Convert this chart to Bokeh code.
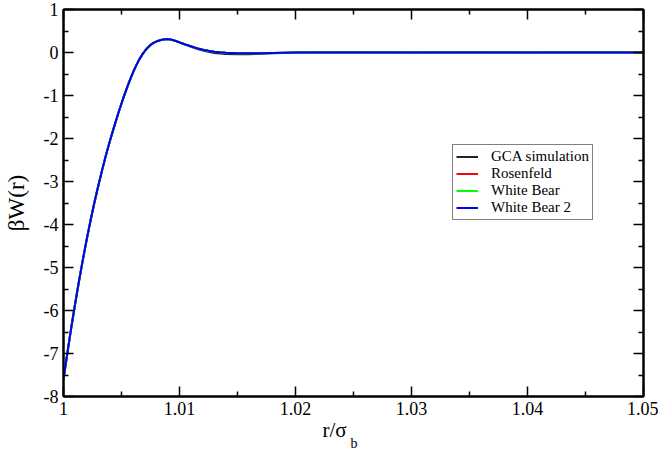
from bokeh.plotting import figure
from bokeh.models import (Range1d, LinearAxis, FixedTicker, CustomJSTickFormatter,
                          Legend, LegendItem, Title)
from bokeh.embed import file_html
from bokeh.resources import INLINE

# ---- data ----
r = [1.0000, 1.0002, 1.0004, 1.0006, 1.0008, 1.0010, 1.0012, 1.0014, 1.0016,
     1.0018, 1.0020, 1.0022, 1.0024, 1.0026, 1.0028, 1.0030, 1.0032, 1.0034,
     1.0036, 1.0038, 1.0040, 1.0042, 1.0044, 1.0046, 1.0048, 1.0050, 1.0052,
     1.0054, 1.0056, 1.0058, 1.0060, 1.0062, 1.0064, 1.0066, 1.0068, 1.0070,
     1.0072, 1.0074, 1.0076, 1.0078, 1.0080, 1.0082, 1.0084, 1.0086, 1.0088,
     1.0090, 1.0092, 1.0094, 1.0096, 1.0098, 1.0100, 1.0102, 1.0105, 1.0109,
     1.0113, 1.0117, 1.0121, 1.0125, 1.0130, 1.0135, 1.0140, 1.0150, 1.0160,
     1.0170, 1.0180, 1.0190, 1.0200, 1.0250, 1.0300, 1.0350, 1.0400, 1.0450,
     1.0500]

rosenfeld = [-7.60, -7.23, -6.87, -6.52, -6.18, -5.85, -5.53, -5.22, -4.92,
             -4.63, -4.35, -4.08, -3.82, -3.57, -3.33, -3.10, -2.88, -2.66,
             -2.45, -2.25, -2.06, -1.875, -1.695, -1.52, -1.35, -1.185, -1.025,
             -0.875, -0.73, -0.59, -0.46, -0.34, -0.23, -0.13, -0.045, 0.03,
             0.095, 0.15, 0.195, 0.23, 0.255, 0.275, 0.29, 0.30, 0.308,
             0.312, 0.305, 0.29, 0.275, 0.255, 0.235, 0.215, 0.185, 0.15,
             0.115, 0.085, 0.06, 0.04, 0.02, 0.005, -0.005, -0.015, -0.02,
             -0.015, -0.01, -0.005, 0.00, 0.00, 0.00, 0.00, 0.00, 0.00,
             0.00]
white_bear = list(rosenfeld)
white_bear2 = list(rosenfeld)
gca = [-7.60, -7.23, -6.87, -6.52, -6.18, -5.85, -5.53, -5.22, -4.92,
       -4.63, -4.35, -4.08, -3.82, -3.57, -3.33, -3.10, -2.88, -2.66,
       -2.45, -2.25, -2.06, -1.875, -1.695, -1.52, -1.35, -1.185, -1.025,
       -0.875, -0.73, -0.59, -0.46, -0.34, -0.23, -0.13, -0.045, 0.03,
       0.095, 0.15, 0.195, 0.23, 0.255, 0.275, 0.29, 0.30, 0.308,
       0.312, 0.305, 0.29, 0.275, 0.255, 0.235, 0.215, 0.185, 0.145,
       0.105, 0.07, 0.04, 0.015, -0.01, -0.025, -0.035, -0.04, -0.04,
       -0.03, -0.02, -0.01, 0.00, 0.01, 0.00, 0.01, 0.00, 0.01,
       0.00]

x_ticks = [1.0, 1.01, 1.02, 1.03, 1.04, 1.05]
x_minor = [1.005, 1.015, 1.025, 1.035, 1.045]
y_ticks = [-8, -7, -6, -5, -4, -3, -2, -1, 0, 1]
y_minor = [-7.5, -6.5, -5.5, -4.5, -3.5, -2.5, -1.5, -0.5, 0.5]

names = ["GCA simulation", "Rosenfeld", "White Bear", "White Bear 2"]
colors = ["#222222", "#ff0000", "#00ff00", "#0000ff"]
series = [gca, rosenfeld, white_bear, white_bear2]

FONT = "Liberation Serif"

p = figure(width=658, height=454, output_backend="svg", toolbar_location=None,
           x_range=Range1d(1.0, 1.05), y_range=Range1d(-8, 1),
           min_border_left=63, min_border_right=15, min_border_top=9,
           min_border_bottom=58)
p.xaxis.visible = False
p.yaxis.visible = False
p.grid.visible = False
p.outline_line_color = "black"
p.outline_line_width = 2

xfmt = CustomJSTickFormatter(code="return tick.toFixed(2).replace(/\\.?0+$/, '');")
yfmt = CustomJSTickFormatter(code="return tick.toFixed(0);")
blank = CustomJSTickFormatter(code="return '';")

def style(ax, show):
    ax.axis_line_color = "black"
    ax.axis_line_width = 2
    ax.major_tick_in = 10
    ax.major_tick_out = 0
    ax.minor_tick_in = 5
    ax.minor_tick_out = 0
    ax.major_tick_line_width = 1.5
    ax.minor_tick_line_width = 1.5
    ax.major_label_text_font = FONT
    ax.major_label_text_font_size = "18px" if show else "0px"
    ax.major_label_text_color = "black"
    ax.major_label_standoff = 5 if show else 0
    if not show:
        ax.axis_label_standoff = 0

bx = LinearAxis(ticker=FixedTicker(ticks=x_ticks, minor_ticks=x_minor), formatter=xfmt)
tx = LinearAxis(ticker=FixedTicker(ticks=x_ticks, minor_ticks=x_minor), formatter=blank)
ly = LinearAxis(ticker=FixedTicker(ticks=y_ticks, minor_ticks=y_minor), formatter=yfmt,
                axis_label="βW(r)")
ry = LinearAxis(ticker=FixedTicker(ticks=y_ticks, minor_ticks=y_minor), formatter=blank)
for ax, show in [(bx, True), (tx, False), (ly, True), (ry, False)]:
    style(ax, show)
ly.axis_label_text_font = FONT
ly.axis_label_text_font_size = "23px"
ly.axis_label_text_font_style = "normal"
ly.axis_label_text_color = "black"
ly.axis_label_standoff = 12
p.add_layout(bx, "below")
p.add_layout(tx, "above")
p.add_layout(ly, "left")
p.add_layout(ry, "right")

items = []
for name, col, vals in zip(names, colors, series):
    rend = p.line(r, vals, line_color=col, line_width=2)
    items.append(LegendItem(label=name, renderers=[rend]))

legend = Legend(items=items, location=(389, 176), orientation="vertical")
legend.border_line_color = "black"
legend.border_line_width = 1
legend.background_fill_color = "white"
legend.background_fill_alpha = 1
legend.label_text_font = FONT
legend.label_text_font_size = "15px"
legend.label_text_color = "black"
legend.label_height = 17
legend.glyph_height = 17
legend.glyph_width = 22
legend.label_standoff = 13
legend.spacing = 0
legend.padding = 3
legend.margin = 0
p.add_layout(legend, "center")

t1 = Title(text="r/σ", align="left", offset=259, standoff=-4,
           text_font=FONT, text_font_size="21px", text_font_style="normal",
           text_color="black")
t2 = Title(text="b", align="left", offset=287, standoff=-8, vertical_align="top",
           text_font=FONT, text_font_size="14px", text_font_style="normal",
           text_color="black")
p.add_layout(t1, "below")
p.add_layout(t2, "below")

open("out.html", "w").write(file_html(p, INLINE))
